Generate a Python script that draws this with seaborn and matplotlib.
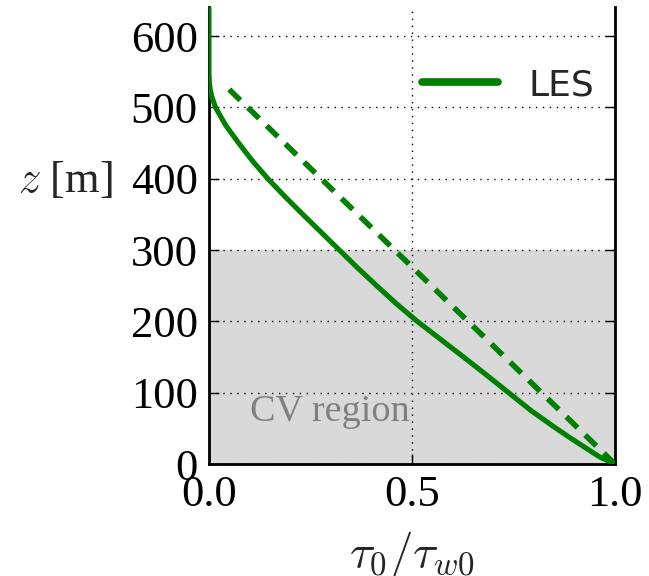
import numpy as np
import pandas as pd
import matplotlib
matplotlib.use("Agg")
import matplotlib.pyplot as plt
import seaborn as sns

# Data
les_x = [1.0, 0.962, 0.924, 0.886, 0.850, 0.793, 0.738, 0.683, 0.627, 0.570,
         0.513, 0.461, 0.413, 0.366, 0.321, 0.276, 0.231, 0.187, 0.145, 0.107,
         0.073, 0.041, 0.016, 0.007, 0.003, 0.001, 0.0, 0.0]
les_z = [0, 10, 24, 38, 52, 75, 100, 125, 150, 175,
         200, 225, 250, 275, 300, 325, 350, 375, 400, 425,
         450, 475, 500, 515, 525, 535, 548, 640]
lin_x = [1.0, 0.041]
lin_z = [0, 530]
cv_top = 300
xticks = [0.0, 0.5, 1.0]
xticklabels = ["0.0", "0.5", "1.0"]
yticks = [0, 100, 200, 300, 400, 500, 600]

sns.set_style("white")
plt.rcParams['font.family'] = ['Liberation Serif', 'DejaVu Serif']
plt.rcParams['mathtext.fontset'] = 'cm'

fig = plt.figure(figsize=(6.49, 5.76), dpi=100)
ax = fig.add_axes([0.322, 0.1944, 0.9476 - 0.322, 0.987 - 0.1944])

ax.axhspan(0, cv_top, color='#d9d9d9', zorder=0, lw=0)

df_les = pd.DataFrame({"x": les_x, "z": les_z})
df_lin = pd.DataFrame({"x": lin_x, "z": lin_z})
sns.lineplot(data=df_les, x="x", y="z", sort=False, estimator=None, ax=ax,
             color='#008000', linewidth=3.7, label='LES', zorder=3)
sns.lineplot(data=df_lin, x="x", y="z", sort=False, estimator=None, ax=ax,
             color='#008000', linewidth=4.0, zorder=3, linestyle=(0, (2.8, 1.9)))

ax.text(0.10, 60, "CV region", color='#808080', fontsize=27.5, ha='left', va='baseline')

ax.set_xlim(0, 1)
ax.set_ylim(0, 640)
ax.set_xticks(xticks)
ax.set_xticklabels(xticklabels)
ax.set_yticks(yticks)
ax.tick_params(direction='in', length=7, width=1, labelsize=32, pad=8,
               top=False, right=True, left=True, bottom=True, colors='black')
ax.set_axisbelow(True)
ax.grid(True, color='black', linestyle=(0, (1, 4)), lw=1.0)

for side in ['left', 'right', 'bottom']:
    ax.spines[side].set_visible(True)
    ax.spines[side].set_color('black')
    ax.spines[side].set_linewidth(2)
ax.spines['top'].set_visible(False)

ax.set_xlabel(r"$\tau_0/\tau_{w0}$", fontsize=34, labelpad=10)
ax.set_ylabel(r"$z$ [m]", fontsize=32, rotation=0, ha='right', va='center')
ax.yaxis.set_label_coords(-0.237, 0.622)

leg = ax.legend(loc='center right', bbox_to_anchor=(1.03, 0.83), frameon=False,
                handlelength=2.1, handletextpad=0.85,
                prop={'family': 'DejaVu Sans', 'size': 26})
for h in leg.get_lines():
    h.set_linewidth(5.5)

fig.savefig("out.png", dpi=100)
